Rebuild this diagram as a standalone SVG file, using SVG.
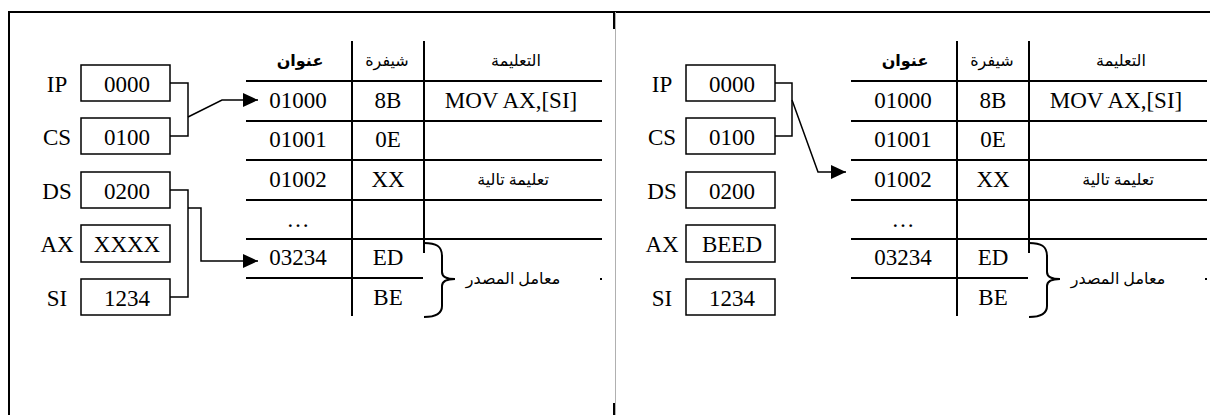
<svg xmlns="http://www.w3.org/2000/svg" width="1210" height="415" viewBox="0 0 1210 415">
<style>
.reg{fill:#fff;stroke:#000;stroke-width:1.5}
.t{font-family:"Liberation Serif","Times New Roman",serif;font-size:23px;text-anchor:middle;fill:#000}
.ar{font-family:"Liberation Serif","DejaVu Sans",sans-serif;font-size:16px;text-anchor:middle;fill:#000}
.arb{font-weight:bold}
.tl{stroke:#000;stroke-width:2;fill:none}
.cn{fill:none;stroke:#000;stroke-width:1.5}
.br{fill:none;stroke:#000;stroke-width:2}
.fr{stroke:#000;stroke-width:2;fill:none}
</style>
<defs>
<marker id="arr" markerUnits="userSpaceOnUse" markerWidth="16" markerHeight="14" refX="15" refY="7" orient="auto">
<path d="M0,0 L15,7 L0,14 z" fill="#000"/>
</marker>
</defs>
<rect width="1210" height="415" fill="#fff"/>
<g id="frame">
<path class="fr" d="M9,415 L9,12 L1210,12"/>
<line x1="615.5" y1="12" x2="615.5" y2="415" stroke="#b0b0b0" stroke-width="1"/>
<line x1="614" y1="12" x2="614" y2="29" stroke="#000" stroke-width="2"/>
<line x1="614" y1="403" x2="614" y2="415" stroke="#000" stroke-width="2"/>
</g>

<!-- LEFT PANEL -->
<g id="left-panel">
<g id="L-IP"><text class="t" x="57" y="92">IP</text><rect class="reg" x="81" y="65" width="89" height="36"/><text class="t" x="127" y="92">0000</text></g>
<g id="L-CS"><text class="t" x="57" y="145">CS</text><rect class="reg" x="81" y="118" width="89" height="36"/><text class="t" x="127" y="145">0100</text></g>
<g id="L-DS"><text class="t" x="57" y="199">DS</text><rect class="reg" x="81" y="172" width="89" height="36"/><text class="t" x="127" y="199">0200</text></g>
<g id="L-AX"><text class="t" x="57" y="252">AX</text><rect class="reg" x="81" y="225" width="89" height="37"/><text class="t" x="127" y="252">XXXX</text></g>
<g id="L-SI"><text class="t" x="57" y="306">SI</text><rect class="reg" x="81" y="279" width="89" height="36"/><text class="t" x="127" y="306">1234</text></g>
<g id="L-table">
<line class="tl" x1="352" y1="41" x2="352" y2="316"/>
<line class="tl" x1="424" y1="41" x2="424" y2="253"/>
<line class="tl" x1="246" y1="81" x2="602" y2="81"/>
<line class="tl" x1="246" y1="121" x2="602" y2="121"/>
<line class="tl" x1="246" y1="160" x2="602" y2="160"/>
<line class="tl" x1="246" y1="200" x2="602" y2="200"/>
<line class="tl" x1="246" y1="239" x2="602" y2="239"/>
<line class="tl" x1="246" y1="278" x2="423" y2="278"/>
<line class="tl" x1="600" y1="279" x2="602" y2="279"/>
<text class="ar arb" x="300" y="66">عنوان</text>
<text class="ar" x="387" y="66">شيفرة</text>
<text class="ar" x="516" y="66">التعليمة</text>
<text class="t" x="298" y="108">01000</text><text class="t" x="388" y="108">8B</text><text class="t" x="511" y="108">MOV AX,[SI]</text>
<text class="t" x="298" y="147">01001</text><text class="t" x="388" y="147">0E</text>
<text class="t" x="298" y="187">01002</text><text class="t" x="388" y="187">XX</text><text class="ar" x="513" y="185">تعليمة تالية</text>
<text class="t" x="298" y="227">…</text>
<text class="t" x="298" y="265">03234</text><text class="t" x="388" y="265">ED</text>
<text class="t" x="388" y="305">BE</text>
<path class="br" d="M424,243 C436,243 442,246 442,256 L442,272 C442,277 448,279 455,279 C448,279 442,281 442,286 L442,306 C442,314 436,317 424,317"/>
<text class="ar" x="513" y="284">معامل المصدر</text>
</g>
</g>

<!-- RIGHT PANEL -->
<g id="right-panel">
<g id="R-IP"><text class="t" x="662" y="92">IP</text><rect class="reg" x="686" y="65" width="89" height="36"/><text class="t" x="732" y="92">0000</text></g>
<g id="R-CS"><text class="t" x="662" y="145">CS</text><rect class="reg" x="686" y="118" width="89" height="36"/><text class="t" x="732" y="145">0100</text></g>
<g id="R-DS"><text class="t" x="662" y="199">DS</text><rect class="reg" x="686" y="172" width="89" height="36"/><text class="t" x="732" y="199">0200</text></g>
<g id="R-AX"><text class="t" x="662" y="252">AX</text><rect class="reg" x="686" y="225" width="89" height="37"/><text class="t" x="732" y="252">BEED</text></g>
<g id="R-SI"><text class="t" x="662" y="306">SI</text><rect class="reg" x="686" y="279" width="89" height="36"/><text class="t" x="732" y="306">1234</text></g>
<g id="R-table">
<line class="tl" x1="957" y1="41" x2="957" y2="316"/>
<line class="tl" x1="1029" y1="41" x2="1029" y2="253"/>
<line class="tl" x1="851" y1="81" x2="1207" y2="81"/>
<line class="tl" x1="851" y1="121" x2="1207" y2="121"/>
<line class="tl" x1="851" y1="160" x2="1207" y2="160"/>
<line class="tl" x1="851" y1="200" x2="1207" y2="200"/>
<line class="tl" x1="851" y1="239" x2="1207" y2="239"/>
<line class="tl" x1="851" y1="278" x2="1028" y2="278"/>
<line class="tl" x1="1205" y1="279" x2="1207" y2="279"/>
<text class="ar arb" x="905" y="66">عنوان</text>
<text class="ar" x="992" y="66">شيفرة</text>
<text class="ar" x="1121" y="66">التعليمة</text>
<text class="t" x="903" y="108">01000</text><text class="t" x="993" y="108">8B</text><text class="t" x="1116" y="108">MOV AX,[SI]</text>
<text class="t" x="903" y="147">01001</text><text class="t" x="993" y="147">0E</text>
<text class="t" x="903" y="187">01002</text><text class="t" x="993" y="187">XX</text><text class="ar" x="1118" y="185">تعليمة تالية</text>
<text class="t" x="903" y="227">…</text>
<text class="t" x="903" y="265">03234</text><text class="t" x="993" y="265">ED</text>
<text class="t" x="993" y="305">BE</text>
<path class="br" d="M1029,243 C1041,243 1047,246 1047,256 L1047,272 C1047,277 1053,279 1060,279 C1053,279 1047,281 1047,286 L1047,306 C1047,314 1041,317 1029,317"/>
<text class="ar" x="1118" y="284">معامل المصدر</text>
</g>
</g>

<g id="connectors">
<path class="cn" d="M170,83 L188,83 L188,136 L170,136"/>
<path class="cn" d="M188,117 L222,100 L258,100" marker-end="url(#arr)"/>
<path class="cn" d="M170,190 L188,190 L188,297 L170,297"/>
<path class="cn" d="M188,208 L201,208 L201,261 L258,261" marker-end="url(#arr)"/>
<path class="cn" d="M775,83 L792,83 L792,136 L775,136"/>
<path class="cn" d="M792,100 L818,172 L846,172" marker-end="url(#arr)"/>
</g>
</svg>
